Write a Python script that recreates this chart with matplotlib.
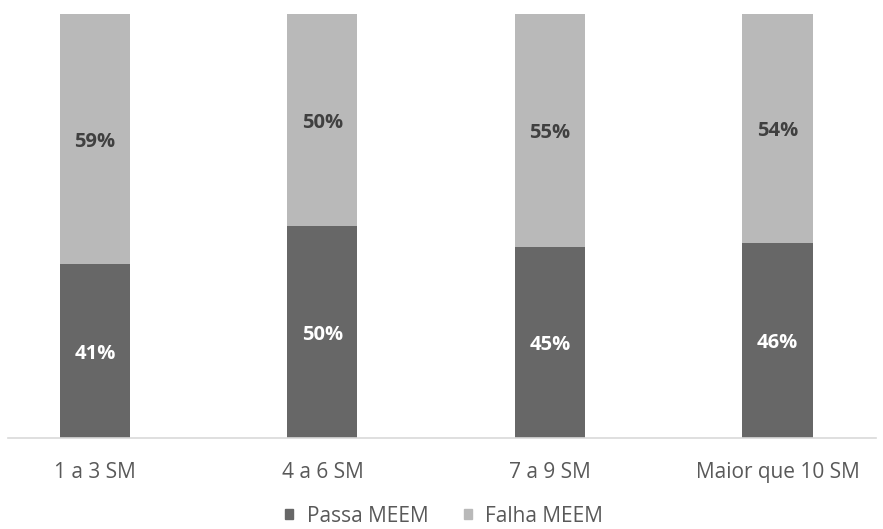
import numpy as np
import matplotlib.pyplot as plt
from matplotlib.patches import Rectangle

categorias = ["1 a 3 SM", "4 a 6 SM", "7 a 9 SM", "Maior que 10 SM"]
passa = [41, 50, 45, 46]
falha = [59, 50, 55, 54]
series = ["Passa MEEM", "Falha MEEM"]

cor_passa = "#676767"
cor_falha = "#b9b9b9"

plt.rcParams["font.family"] = ["Open Sans", "DejaVu Sans"]

W, H = 883, 529
fig = plt.figure(figsize=(W / 100, H / 100), dpi=100)
ax = fig.add_axes([8 / W, 1 - 438 / H, 868 / W, 424 / H])

x = np.arange(len(categorias))
largura = 0.308
ax.bar(x, passa, largura, color=cor_passa, label=series[0])
ax.bar(x, falha, largura, bottom=passa, color=cor_falha, label=series[1])

for i in range(len(categorias)):
    ax.text(x[i], passa[i] / 2, f"{passa[i]}%", ha="center",
            va="center_baseline", color="white", fontsize=14.5,
            fontweight="bold")
    ax.text(x[i], passa[i] + falha[i] / 2, f"{falha[i]}%", ha="center",
            va="center_baseline", color="#404040", fontsize=14.5,
            fontweight="bold")

ax.set_xlim(-0.382, 3.433)
ax.set_ylim(0, 100)
ax.set_yticks([])
ax.set_xticks(x)
ax.set_xticklabels(categorias, fontsize=15, color="#595959")
ax.tick_params(axis="x", length=0, pad=17)
for lado in ["top", "left", "right"]:
    ax.spines[lado].set_visible(False)
ax.spines["bottom"].set_color("#d9d9d9")
ax.spines["bottom"].set_linewidth(1.2)

alcas = [Rectangle((0, 0), 1, 1, color=cor_passa),
         Rectangle((0, 0), 1, 1, color=cor_falha)]
fig.legend(alcas, series, loc="center", bbox_to_anchor=(444 / W, 1 - 516 / H),
           ncol=2, frameon=False, fontsize=15, labelcolor="#595959",
           handlelength=0.4, handleheight=0.4, handletextpad=0.65,
           columnspacing=1.7, borderpad=0.1)

fig.savefig("out.png", dpi=100)
